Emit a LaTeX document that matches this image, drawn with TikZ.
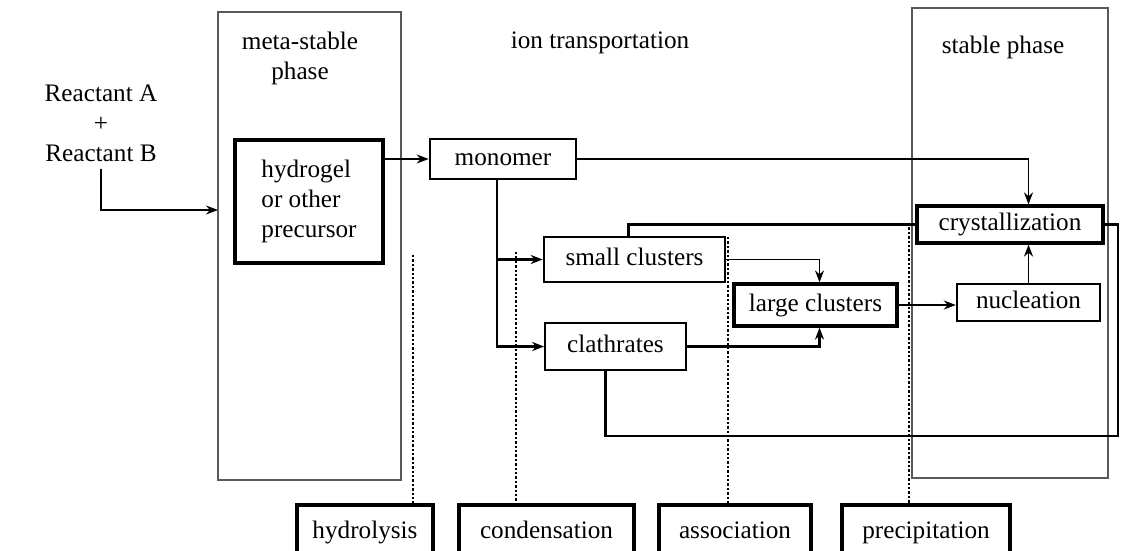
\documentclass[tikz,border=0pt]{standalone}
\usepackage{fontspec}
\setmainfont{Liberation Serif}
\usetikzlibrary{arrows.meta}
\begin{document}
\begin{tikzpicture}[x=0.5pt,y=-0.5pt,
	every node/.style={font=\fontsize{12.6}{15}\selectfont},
	phasebox/.style={draw=black!65,line width=0.6pt},
	box/.style={draw,line width=0.9pt,inner sep=0pt,text height=8.5pt,text depth=2.5pt},
	boldbox/.style={draw,line width=1.6pt,inner sep=0pt,text height=8.5pt,text depth=2.5pt},
	flow/.style={line width=0.9pt,-{Stealth[length=6pt,width=4.5pt]}},
	link/.style={line width=1.3pt},
	stage/.style={densely dotted,line width=1.2pt}]
	\clip (0,0) rectangle (1140,551);
	% phase frames and headings
	\draw[phasebox] (218,12) rectangle (401,480);
	\draw[phasebox] (912,8) rectangle (1108,478);
	\node[align=center] (meta) at (300,58) {meta-stable\\phase};
	\node (ion) at (600,43) {ion transportation};
	\node (stab) at (1003,47) {stable phase};
	\node[align=center] (reac) at (101,123) {Reactant A\\+\\Reactant B};
	\coordinate (inlet) at (218,210);
	% process boxes
	\node[boldbox,text height=,text depth=,minimum width=74pt,minimum height=61.5pt,align=left] (hydro) at (309,201.5) {hydrogel\\or other\\precursor};
	\node[boldbox,line width=1.3pt,minimum width=73pt,minimum height=20pt] (mono) at (503,159) {monomer};
	\node[boldbox,line width=1.3pt,minimum width=90.5pt,minimum height=22.5pt] (small) at (634.5,259.5) {small clusters};
	\node[box,minimum width=70.5pt,minimum height=23.5pt] (clath) at (615.5,346.5) {clathrates};
	\node[boldbox,minimum width=81.5pt,minimum height=21pt] (large) at (815.5,305) {large clusters};
	\node[box,line width=1.2pt,minimum width=71.5pt,minimum height=18.5pt] (nucl) at (1028.5,302.5) {nucleation};
	\node[boldbox,minimum width=93pt,minimum height=18.5pt] (crys) at (1010,224.5) {crystallization};
	% stages
	\node[boldbox,minimum width=68pt,minimum height=27pt] (hydrol) at (365,532) {hydrolysis};
	\node[boldbox,minimum width=87.5pt,minimum height=27pt] (cond) at (546.5,532) {condensation};
	\node[boldbox,minimum width=76pt,minimum height=27pt] (assoc) at (735,532) {association};
	\node[boldbox,minimum width=84pt,minimum height=27pt] (precip) at (926,532) {precipitation};
	\coordinate (d1) at (413,255);
	\coordinate (d2) at (516,252);
	\coordinate (d3) at (728,237);
	\coordinate (d4) at (909,223);
	\draw[stage] (d1) -- (d1 |- hydrol.north);
	\draw[stage] (d2) -- (d2 |- cond.north);
	\draw[stage] (d3) -- (d3 |- assoc.north);
	\draw[stage] (d4) -- (d4 |- precip.north);
	% connectors
	\draw[flow,line width=0.6pt] (reac.south) |- (inlet);
	\draw[flow] (hydro.east |- mono.west) -- (mono.west);
	\draw[flow] (mono.east) -| (crys.north -| nucl.north);
	\draw[flow,line width=1.2pt] ([xshift=-3pt]mono.south) |- (small.west);
	\draw[flow,line width=1.2pt] ([xshift=-3pt]mono.south) |- (clath.west);
	\draw[flow,line width=0.6pt] (small.east) -| ([xshift=2pt]large.north);
	\draw[flow,line width=1.3pt] (clath.east) -| ([xshift=2pt]large.south);
	\draw[flow] (large.east) -- (large.east -| nucl.west);
	\draw[flow] (nucl.north) -- (nucl.north |- crys.south);
	\coordinate (loop) at (1118,436);
	\draw[link] ([xshift=-3pt]small.north) |- (crys.west);
	\draw[link] ([xshift=-5pt]clath.south) |- (loop) |- (crys.east);
\end{tikzpicture}
\end{document}
